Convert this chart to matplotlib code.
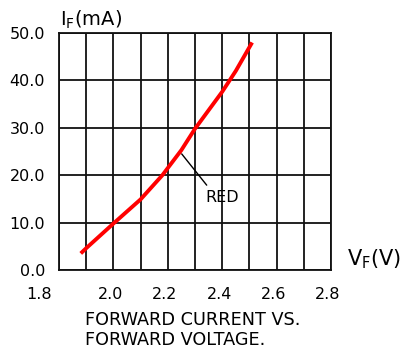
import matplotlib
matplotlib.use("Agg")
import matplotlib.pyplot as plt
import matplotlib.transforms as mtransforms

# Data
vf = [1.88, 1.90, 2.00, 2.10, 2.18, 2.25, 2.30, 2.40, 2.45, 2.51]
if_ma = [3.5, 4.6, 9.8, 14.9, 20.0, 25.3, 29.8, 37.6, 42.0, 48.0]
x_ticks = [1.8, 2.0, 2.2, 2.4, 2.6, 2.8]
x_ticklabels = ["1.8", "2.0", "2.2", "2.4", "2.6", "2.8"]
y_ticks = [0, 10, 20, 30, 40, 50]
y_ticklabels = ["0.0", "10.0", "20.0", "30.0", "40.0", "50.0"]
x_grid = [1.8 + 0.1 * i for i in range(11)]
series_label = "RED"
label_point = (2.251, 24.5)
leader_end = (2.343, 17.9)
label_pos = (2.40, 15.2)

W, H = 413, 351
fig = plt.figure(figsize=(W / 100, H / 100), dpi=100)
ax = fig.add_axes([59 / W, 1 - 270 / H, (331 - 59) / W, (270 - 33) / H])

ax.set_xlim(1.8, 2.8)
ax.set_ylim(0, 50)
for xv in x_grid:
    ax.axvline(xv, color="#111111", lw=1.3, zorder=1)
for yv in y_ticks:
    ax.axhline(yv, color="#111111", lw=1.3, zorder=1)
for s in ax.spines.values():
    s.set_linewidth(1.3)
    s.set_color("#111111")

ax.plot(vf, if_ma, color="#ff0000", lw=2.8, solid_capstyle="butt",
        solid_joinstyle="round", zorder=3)

ax.set_xticks(x_ticks)
ax.set_xticklabels(x_ticklabels, fontsize=11.5)
ax.set_yticks(y_ticks)
ax.set_yticklabels(y_ticklabels, fontsize=11.5)
ax.tick_params(length=0, pad=10, axis="y")
ax.tick_params(length=0, pad=12, axis="x")

# shift x tick labels slightly left; first one further left
for i, lab in enumerate(ax.get_xticklabels()):
    dx = -20 if i == 0 else -3
    lab.set_transform(lab.get_transform() + mtransforms.ScaledTranslation(dx / 100, 0, fig.dpi_scale_trans))

# annotation
ax.annotate("", xy=label_point, xytext=leader_end,
            arrowprops=dict(arrowstyle="-", color="black", lw=1.0,
                            shrinkA=0, shrinkB=0), zorder=2)
ax.text(label_pos[0], label_pos[1], series_label, fontsize=11.5,
        ha="center", va="center")

fig.text(60 / W, 1 - 20 / H, r"I$_\mathregular{F}$(mA)", fontsize=14, ha="left", va="center")
fig.text(347 / W, 1 - 259 / H, r"V$_\mathregular{F}$(V)", fontsize=15, ha="left", va="center")
fig.text(85 / W, 1 - 320 / H, "FORWARD CURRENT VS.", fontsize=12.7, ha="left", va="center")
fig.text(85 / W, 1 - 340 / H, "FORWARD VOLTAGE.", fontsize=12.7, ha="left", va="center")

fig.savefig("out.png", dpi=100)
